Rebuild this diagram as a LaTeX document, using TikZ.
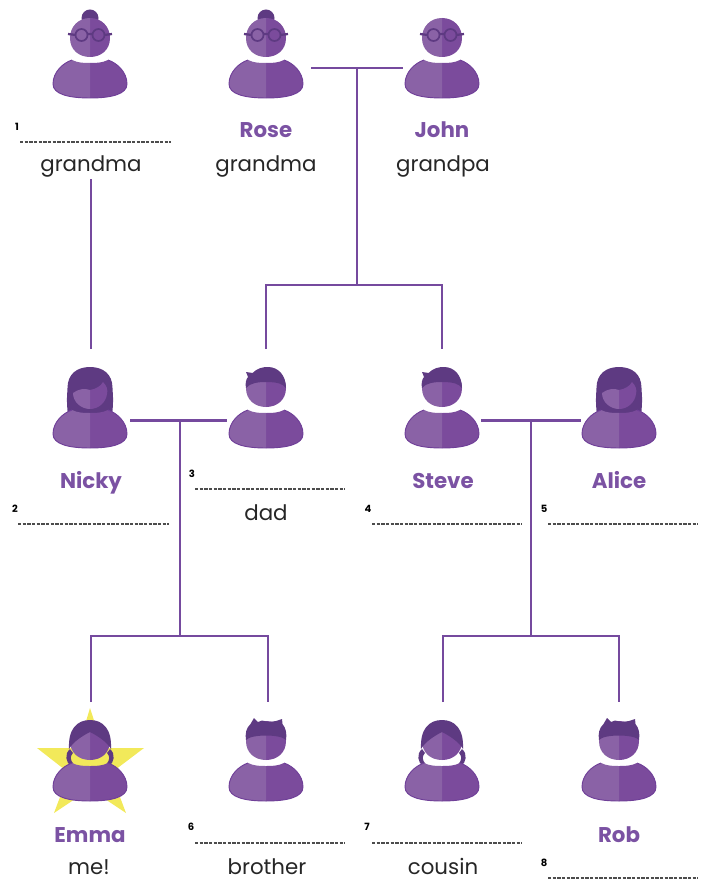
\documentclass[tikz,border=0pt]{standalone}
\usepackage{fontspec}
\setmainfont{Poppins}
\usepackage{xcolor}
\definecolor{famline}{HTML}{754A9E}
\definecolor{famedge}{HTML}{6F3F98}
\definecolor{famname}{HTML}{7B52A3}
\definecolor{famlight}{HTML}{8A62A6}
\definecolor{famdark}{HTML}{7B4B9C}
\definecolor{famhair}{HTML}{5E3A82}
\definecolor{famstar}{HTML}{F2E95A}
\tikzset{
  branch/.style={draw=famline,line width=2.2pt},
  personbox/.style={inner sep=0pt,outer sep=0pt,minimum width=58.5pt,minimum height=107pt},
  namelabel/.style={anchor=base,inner sep=0.75pt,text=famname,font=\fontsize{16}{18}\selectfont\bfseries},
  rolelabel/.style={anchor=base,inner sep=0.75pt,text=black!85,font=\fontsize{16}{18}\selectfont},
  blankline/.style={draw=black!70,line width=2pt,dash pattern=on 2.6pt off 0.9pt},
  blanknum/.style={inner sep=0pt,text=black,font=\fontsize{7.5}{8}\selectfont\bfseries},
}
\newcommand{\famBody}{%
  \fill[famdark] (0,38) .. controls (22,38) and (37,34) .. (37,24) .. controls (37,12) and (27,3) .. (18,0) .. controls (12,3) and (6,3) .. (0,3) -- cycle;
  \fill[famlight] (0,38) .. controls (-22,38) and (-37,34) .. (-37,24) .. controls (-37,12) and (-27,3) .. (-18,0) .. controls (-12,3) and (-6,3) .. (0,3) -- cycle;
  \draw[famedge,line width=0.7pt] (0,38) .. controls (22,38) and (37,34) .. (37,24) .. controls (37,12) and (27,3) .. (18,0);
  \draw[famedge,line width=0.7pt] (0,38) .. controls (-22,38) and (-37,34) .. (-37,24) .. controls (-37,12) and (-27,3) .. (-18,0);
}
\newcommand{\famHead}{%
  \fill[famdark] (0,-42) .. controls (12,-42) and (20,-33) .. (20,-22) .. controls (20,-10) and (11,-3) .. (0,-3) -- cycle;
  \fill[famlight] (0,-42) .. controls (-12,-42) and (-20,-33) .. (-20,-22) .. controls (-20,-10) and (-11,-3) .. (0,-3) -- cycle;
}
\newcommand{\famGlasses}{%
  \draw[famhair,line width=1.7pt] (-22,-26) -- (-14,-25) (14,-25) -- (22,-26) (-2.5,-26) -- (2.5,-26);
  \draw[famhair,line width=1.3pt] (-8.5,-25) circle (6) (8.5,-25) circle (6);
}
\newcommand{\famGrandma}[2]{%
  \begin{scope}[shift={(#1,#2)}]
    \fill[famhair] (0,-42) circle (8.5);
    \famHead \famGlasses \famBody
  \end{scope}
}
\newcommand{\famGrandpa}[2]{%
  \begin{scope}[shift={(#1,#2)}]
    \famHead \famGlasses \famBody
  \end{scope}
}
\newcommand{\famLongHair}[2]{%
  \begin{scope}[shift={(#1,#2)}]
    \fill[famhair] (-22,5) .. controls (-24,-10) and (-22.5,-18) .. (-22.5,-22) .. controls (-22.5,-36) and (-13,-43) .. (0,-43) .. controls (13,-43) and (22.5,-36) .. (22.5,-22) .. controls (22.5,-18) and (24,-10) .. (22,5) -- cycle;
    \famBody
    \fill[famdark] (0,-20) .. controls (6,-21) and (11,-24) .. (13,-28) .. controls (17,-24) and (18,-20) .. (17,-16) .. controls (16,-8) and (9,-1) .. (0,-1) -- cycle;
    \fill[famlight] (0,-20) .. controls (-5,-22) and (-12,-21) .. (-17,-17) .. controls (-17,-8) and (-9,-1) .. (0,-1) -- cycle;
  \end{scope}
}
\newcommand{\famShortHair}[2]{%
  \begin{scope}[shift={(#1,#2)}]
    \famHead
    \fill[famhair] (-20,-22) .. controls (-21,-26) and (-20,-31) .. (-18,-33) -- (-20,-38) -- (-13,-37) .. controls (-9,-42) and (-3,-43) .. (2,-43) .. controls (12,-43) and (20,-35) .. (20,-22) .. controls (17,-26) and (12,-28) .. (0,-28) .. controls (-8,-28) and (-16,-27) .. (-20,-22) -- cycle;
    \famBody
  \end{scope}
}
\newcommand{\famSpikeHair}[2]{%
  \begin{scope}[shift={(#1,#2)}]
    \famHead
    \fill[famhair] (-20,-23) .. controls (-21,-29) and (-20,-35) .. (-15.5,-39) -- (-12,-45) -- (-8,-41) -- (-4,-42.5) -- (3,-41) -- (10,-42) -- (16,-44) -- (16.5,-39) .. controls (20,-35) and (21,-29) .. (20,-23) .. controls (15,-29) and (-15,-29) .. (-20,-23) -- cycle;
    \famBody
  \end{scope}
}
\newcommand{\famPigtail}[2]{%
  \begin{scope}[shift={(#1,#2)}]
    \fill[famhair] (-20,-14) .. controls (-26,-9) and (-24,0) .. (-19,3) -- (-16.5,1) .. controls (-20,-3) and (-20,-7) .. (-17,-10) -- cycle;
    \fill[famhair] (20,-14) .. controls (26,-9) and (24,0) .. (19,3) -- (16.5,1) .. controls (20,-3) and (20,-7) .. (17,-10) -- cycle;
    \famHead
    \fill[famhair] (-21,-14) .. controls (-22,-34) and (-13,-43) .. (0,-43) .. controls (13,-43) and (22,-34) .. (21,-14) .. controls (17,-21) and (8,-27) .. (0,-31) .. controls (-8,-27) and (-17,-21) .. (-21,-14) -- cycle;
    \famBody
  \end{scope}
}
\begin{document}
\begin{tikzpicture}[x=0.75pt,y=0.75pt,yscale=-1,xscale=1]
\useasboundingbox (0,0) rectangle (705,880);

%Star behind Emma
\fill[famstar] (90,708) -- (103,748) -- (144,748) -- (111,773) -- (126,813) -- (90,789) -- (54,813) -- (69,773) -- (37,748) -- (78,748) -- cycle;

%Icons, top row
\famGrandma{90}{60}
\famGrandma{266}{60}
\famGrandpa{442}{60}
%Icons, middle row
\famLongHair{90}{410}
\famShortHair{266}{410}
\famShortHair{442}{410}
\famLongHair{619}{410}
%Icons, bottom row
\famPigtail{90}{763}
\famSpikeHair{266}{763}
\famPigtail{442}{763}
\famSpikeHair{619}{763}

%Boxes round the icons
\node[personbox] (rose) at (266,68) {};
\node[personbox] (john) at (442,68) {};
\node[personbox] (nicky) at (91,420.5) {};
\node[personbox] (dad) at (266,420.5) {};
\node[personbox] (steve) at (442,420.5) {};
\node[personbox] (alice) at (620,420.5) {};
\node[personbox] (emma) at (91,773.5) {};
\node[personbox] (brother) at (268,773.5) {};
\node[personbox] (cousin) at (443,773.5) {};
\node[personbox] (rob) at (619,773.5) {};

% Text Node
\node[rolelabel] (grandmaA) at (91,172) {grandma};
\node[namelabel] (roseName) at (266,138) {Rose};
\node[rolelabel] (grandmaB) at (266,172) {grandma};
\node[namelabel] (johnName) at (442,138) {John};
\node[rolelabel] (grandpaA) at (443,172) {grandpa};
\node[namelabel] (nickyName) at (91,488) {Nicky};
\node[rolelabel] (dadRole) at (266,520) {dad};
\node[namelabel] (steveName) at (443,488) {Steve};
\node[namelabel] (aliceName) at (619,488) {Alice};
\node[namelabel] (emmaName) at (90,842) {Emma};
\node[rolelabel] (meRole) at (89,874) {me!};
\node[rolelabel] (brotherRole) at (267,874) {brother};
\node[rolelabel] (cousinRole) at (443,874) {cousin};
\node[namelabel] (robName) at (619,842) {Rob};

% Number Node
\node[blanknum] (numA) at (17,127) {1};
\node[blanknum] (numB) at (15,509) {2};
\node[blanknum] (numC) at (192,474) {3};
\node[blanknum] (numD) at (368,509) {4};
\node[blanknum] (numE) at (544,509) {5};
\node[blanknum] (numF) at (191,827) {6};
\node[blanknum] (numG) at (367,827) {7};
\node[blanknum] (numH) at (544,863) {8};

%Blank lines
\draw[blankline] (20,142) -- (171,142);
\draw[blankline] (18,524) -- (169,524);
\draw[blankline] (195,489) -- (345,489);
\draw[blankline] (372,524) -- (522,524);
\draw[blankline] (548,524) -- (698,524);
\draw[blankline] (195,843) -- (345,843);
\draw[blankline] (372,843) -- (522,843);
\draw[blankline] (548,878) -- (698,878);

%Junctions
\coordinate (topJoin) at (357,68);
\coordinate (topDrop) at (357,285);
\coordinate (leftJoin) at (180,420.5);
\coordinate (leftDrop) at (180,636);
\coordinate (rightJoin) at (531,420.5);
\coordinate (rightDrop) at (531,636);

%Straight Lines
\draw[branch] (grandmaA.south) -- (nicky.north);
\draw[branch,shorten <=4.5pt] (rose.east) -- (john.west);
\draw[branch] (topJoin) -- (topDrop);
\draw[branch] (dad.north) |- (topDrop) -| (steve.north);
\draw[branch] (nicky.east) -- (dad.west);
\draw[branch] (leftJoin) -- (leftDrop);
\draw[branch] (emma.north) |- (leftDrop) -| (brother.north);
\draw[branch] (steve.east) -- (alice.west);
\draw[branch] (rightJoin) -- (rightDrop);
\draw[branch] (cousin.north) |- (rightDrop) -| (rob.north);

\end{tikzpicture}
\end{document}
